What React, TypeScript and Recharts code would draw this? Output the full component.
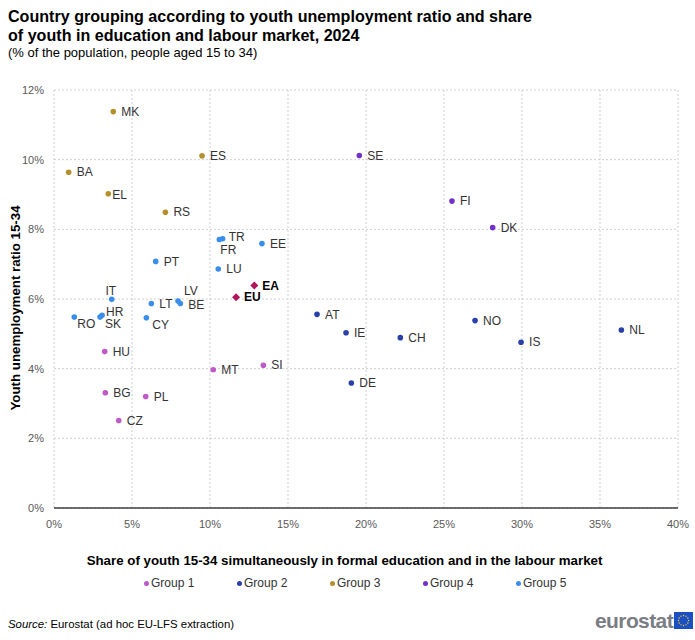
import React from 'react';
import { ScatterChart, Scatter, XAxis, YAxis, CartesianGrid } from 'recharts';

// ---------- data ----------
const group1Names = ['HU', 'MT', 'SI', 'BG', 'PL', 'CZ'];
const group1X = [3.25, 10.21, 13.42, 3.29, 5.88, 4.15];
const group1Y = [4.49, 3.97, 4.1, 3.31, 3.2, 2.51];

const group2Names = ['AT', 'IE', 'CH', 'NO', 'IS', 'NL', 'DE'];
const group2X = [16.86, 18.72, 22.2, 26.99, 29.94, 36.37, 19.06];
const group2Y = [5.56, 5.03, 4.89, 5.38, 4.76, 5.11, 3.59];

const group3Names = ['MK', 'ES', 'BA', 'EL', 'RS'];
const group3X = [3.8, 9.49, 0.94, 3.48, 7.14];
const group3Y = [11.38, 10.11, 9.64, 9.02, 8.49];

const group4Names = ['SE', 'FI', 'DK'];
const group4X = [19.57, 25.51, 28.12];
const group4Y = [10.12, 8.81, 8.05];

const group5Names = ['PT', 'TR', 'FR', 'EE', 'LU', 'IT', 'LT', 'LV', 'BE', 'RO', 'HR', 'SK', 'CY'];
const group5X = [6.52, 10.81, 10.6, 13.33, 10.53, 3.7, 6.24, 7.95, 8.1, 1.3, 3.08, 2.95, 5.92];
const group5Y = [7.08, 7.73, 7.71, 7.59, 6.86, 5.99, 5.87, 5.94, 5.87, 5.48, 5.53, 5.48, 5.46];

const aggNames = ['EA', 'EU'];
const aggX = [12.84, 11.67];
const aggY = [6.39, 6.05];

const xTicks = [0, 5, 10, 15, 20, 25, 30, 35, 40];
const yTicks = [0, 2, 4, 6, 8, 10, 12];

const groupLabels = ['Group 1', 'Group 2', 'Group 3', 'Group 4', 'Group 5'];
const groupColors = ['#C058C8', '#2840A8', '#B58F2A', '#7230CC', '#3A8EEA'];
const aggColor = '#B0145A';

// ---------- helpers ----------
const build = (names: string[], xs: number[], ys: number[]) =>
  names.map((n, i) => ({ name: n, x: xs[i], y: ys[i] }));

const groups = [
  build(group1Names, group1X, group1Y),
  build(group2Names, group2X, group2Y),
  build(group3Names, group3X, group3Y),
  build(group4Names, group4X, group4Y),
  build(group5Names, group5X, group5Y),
];
const aggData = build(aggNames, aggX, aggY);

// label placement (offset of label relative to its dot)
const labelOffset: Record<string, [number, number, string]> = {
  TR: [6, -2, 'start'],
  FR: [1, 10, 'start'],
  IT: [-1, -9, 'middle'],
  LV: [6, -10, 'start'],
  BE: [8, 1, 'start'],
  HR: [4, -4, 'start'],
  SK: [5, 7, 'start'],
  RO: [3, 7, 'start'],
  CY: [6, 7, 'start'],
  EL: [4, 1, 'start'],
};

const FONT = '"Liberation Sans", Arial, sans-serif';

const makeShape = (color: string, diamond = false) => (props: any) => {
  const { cx, cy, payload } = props;
  const name = payload.name as string;
  const off = labelOffset[name] || [8, 0, 'start'];
  return (
    <g>
      {diamond ? (
        <path
          d={`M${cx},${cy - 4} L${cx + 4},${cy} L${cx},${cy + 4} L${cx - 4},${cy} Z`}
          fill={color}
        />
      ) : (
        <circle cx={cx} cy={cy} r={2.8} fill={color} />
      )}
      <text
        x={cx + off[0]}
        y={cy + off[1]}
        dy="0.35em"
        textAnchor={off[2] as any}
        fontSize={12}
        fontFamily={FONT}
        fontWeight={diamond ? 'bold' : 'normal'}
        fill={diamond ? '#000' : '#333'}
      >
        {name}
      </text>
    </g>
  );
};

const Flag = () => {
  const stars = Array.from({ length: 12 }, (_, i) => i);
  return (
    <svg width={19} height={17} style={{ display: 'block' }}>
      <rect x={0} y={0} width={19} height={17} fill="#1B4FC4" />
      {stars.map((i) => {
        const a = (i / 12) * Math.PI * 2;
        return (
          <circle
            key={i}
            cx={9.5 + 5 * Math.cos(a)}
            cy={8.5 + 5 * Math.sin(a)}
            r={0.7}
            fill="#FFD617"
          />
        );
      })}
    </svg>
  );
};

export default function App() {
  return (
    <div
      style={{
        position: 'absolute',
        left: 0,
        top: 0,
        width: 695,
        height: 640,
        background: '#fff',
        fontFamily: FONT,
        color: '#000',
        overflow: 'hidden',
      }}
    >
      <div
        style={{
          position: 'absolute',
          left: 8,
          top: 7,
          fontSize: 16.1,
          fontWeight: 'bold',
          lineHeight: '19px',
          width: 560,
        }}
      >
        Country grouping according to youth unemployment ratio and share
        <br />
        of youth in education and labour market, 2024
      </div>
      <div style={{ position: 'absolute', left: 8, top: 45, fontSize: 13, color: '#000' }}>
        (% of the population, people aged 15 to 34)
      </div>

      <div style={{ position: 'absolute', left: 0, top: 0 }}>
        <ScatterChart
          width={695}
          height={640}
          margin={{ top: 90, right: 17, bottom: 112, left: 8 }}
        >
          <CartesianGrid
            stroke="#cfcfcf"
            strokeDasharray="2 2"
            horizontal
            vertical
            verticalValues={xTicks}
            horizontalValues={yTicks}
          />
          <XAxis
            type="number"
            dataKey="x"
            domain={[0, 40]}
            ticks={xTicks}
            tickFormatter={(v: number) => `${v}%`}
            axisLine={{ stroke: '#404040', strokeWidth: 1.3 }}
            tickLine={false}
            tick={{ fontSize: 11, fill: '#595959', fontFamily: FONT }}
            height={20}
            tickMargin={6}
            interval={0}
          />
          <YAxis
            type="number"
            dataKey="y"
            domain={[0, 12]}
            ticks={yTicks}
            tickFormatter={(v: number) => `${v}%`}
            axisLine={false}
            tickLine={false}
            tick={{ fontSize: 11, fill: '#595959', fontFamily: FONT }}
            width={46}
            tickMargin={4}
            interval={0}
          />
          {groups.map((g, i) => (
            <Scatter
              key={groupLabels[i]}
              name={groupLabels[i]}
              data={g}
              fill={groupColors[i]}
              shape={makeShape(groupColors[i])}
              isAnimationActive={false}
            />
          ))}
          <Scatter
            name="EU/EA"
            data={aggData}
            fill={aggColor}
            shape={makeShape(aggColor, true)}
            isAnimationActive={false}
            legendType="none"
          />
        </ScatterChart>
      </div>

      <div
        style={{
          position: 'absolute',
          left: 15,
          top: 308,
          transform: 'translate(-50%, -50%) rotate(-90deg)',
          fontSize: 13.3,
          fontWeight: 'bold',
          whiteSpace: 'nowrap',
        }}
      >
        Youth unemployment ratio 15-34
      </div>

      <div
        style={{
          position: 'absolute',
          left: 0,
          width: 689,
          top: 553,
          textAlign: 'center',
          fontSize: 13.3,
          fontWeight: 'bold',
          whiteSpace: 'nowrap',
        }}
      >
        Share of youth 15-34 simultaneously in formal education and in the labour market
      </div>

      {groupLabels.map((lbl, i) => (
        <div
          key={lbl}
          style={{
            position: 'absolute',
            left: 144 + i * 93,
            top: 576,
            fontSize: 12,
            color: '#333',
            display: 'flex',
            alignItems: 'center',
            whiteSpace: 'nowrap',
          }}
        >
          <span
            style={{
              display: 'inline-block',
              width: 5,
              height: 5,
              borderRadius: '50%',
              background: groupColors[i],
              marginRight: 2,
            }}
          />
          {lbl}
        </div>
      ))}

      <div style={{ position: 'absolute', left: 8, top: 618, fontSize: 11.4, color: '#000' }}>
        <i>Source:</i> Eurostat (ad hoc EU-LFS extraction)
      </div>

      <div
        style={{
          position: 'absolute',
          left: 595,
          top: 610,
          display: 'flex',
          alignItems: 'center',
        }}
      >
        <span
          style={{
            fontSize: 21,
            fontWeight: 'bold',
            color: '#7b7d85',
            letterSpacing: -0.6,
            fontFamily: '"Liberation Sans Narrow", "Liberation Sans", sans-serif',
            lineHeight: '21px',
            marginRight: 1,
          }}
        >
          eurostat
        </span>
        <Flag />
      </div>
    </div>
  );
}
